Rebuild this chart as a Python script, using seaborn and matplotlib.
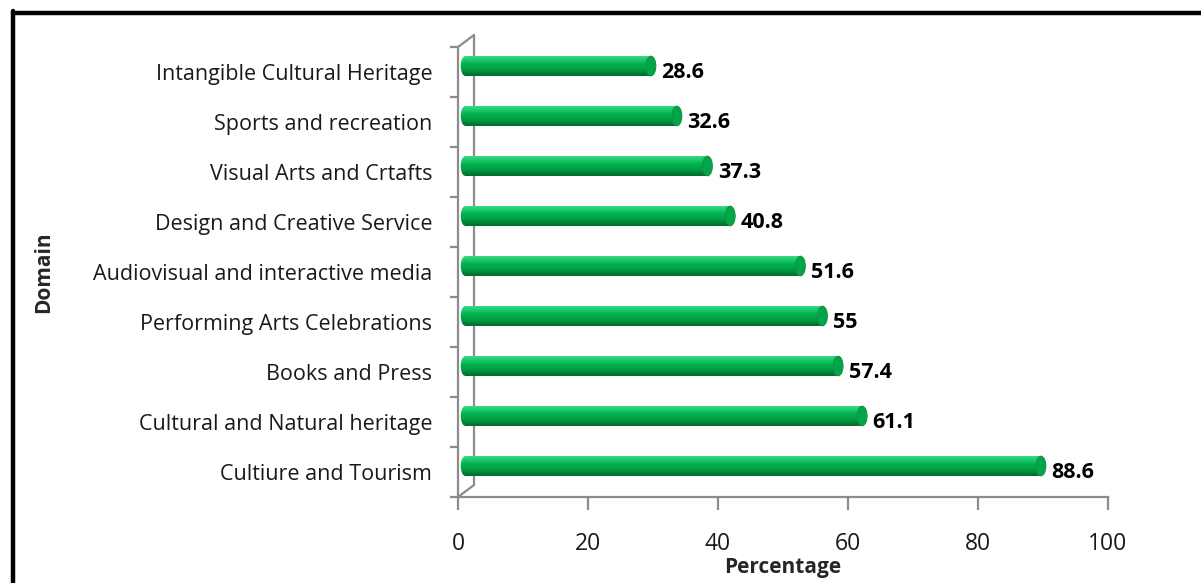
import numpy as np
import pandas as pd
import matplotlib
matplotlib.use("Agg")
import matplotlib.pyplot as plt
import matplotlib.transforms as mtransforms
from matplotlib.patches import Ellipse
from matplotlib.colors import LinearSegmentedColormap
from matplotlib.lines import Line2D
import seaborn as sns

# Share of respondents by cultural domain
domains = [
    "Intangible Cultural Heritage",
    "Sports and recreation",
    "Visual Arts and Crtafts",
    "Design and Creative Service",
    "Audiovisual and interactive media",
    "Performing Arts Celebrations",
    "Books and Press",
    "Cultural and Natural heritage",
    "Cultiure and Tourism",
]
percentages = [28.6, 32.6, 37.3, 40.8, 51.6, 55, 57.4, 61.1, 88.6]
value_labels = ["28.6", "32.6", "37.3", "40.8", "51.6", "55", "57.4", "61.1", "88.6"]
x_ticks = [0, 20, 40, 60, 80, 100]

df = pd.DataFrame({"Domain": domains, "Percentage": percentages})

sns.set_theme(style="white")
plt.rcParams["font.family"] = ["Open Sans", "DejaVu Sans"]

W, H = 1201, 583
fig = plt.figure(figsize=(W / 100, H / 100), dpi=100)
ax = fig.add_axes([458 / W, 1 - 497 / H, (1108 - 458) / W, (497 - 47) / H])

green = "#00B050"
sns.barplot(data=df, x="Percentage", y="Domain", orient="h", color=green,
            width=0.39, ax=ax, saturation=1)

ax.set_xlim(0, 100)
ax.set_ylim(len(domains) - 0.5, -0.5)

# depth offsets (pixels) for the pseudo-3D look
bar_tr = mtransforms.offset_copy(ax.transData, fig=fig, x=7, y=6, units="dots")
label_tr = mtransforms.offset_copy(ax.transData, fig=fig, x=7, y=-1, units="dots")
wall_tr = mtransforms.offset_copy(ax.transData, fig=fig, x=16, y=12, units="dots")

# light on top, dark underneath (y axis runs downward)
cyl = LinearSegmentedColormap.from_list(
    "cyl", ["#3ad884", "#1cc96a", "#00b050", "#00a548", "#008a3c", "#006b2d"])
grad = np.linspace(0, 1, 64).reshape(-1, 1)

gray = "#8c8c8c"
for p, v, lab in zip(ax.patches, percentages, value_labels):
    p.set_transform(bar_tr)
    p.set_edgecolor("none")
    y0, hgt = p.get_y(), p.get_height()
    # left rounded end
    le = Ellipse((0, y0 + hgt / 2), 1.3, hgt, transform=bar_tr, facecolor="none",
                 edgecolor="none")
    ax.add_patch(le)
    for clip in (p, le):
        im = ax.imshow(grad, cmap=cyl, aspect="auto", origin="upper",
                       extent=(-1, v, y0 + hgt, y0),
                       transform=bar_tr, zorder=3, interpolation="bilinear")
        im.set_clip_path(clip)
    # right end cap
    ax.add_patch(Ellipse((v, y0 + hgt / 2), 1.5, hgt, transform=bar_tr,
                         facecolor="#00a648", edgecolor="#1b8f47", lw=0.8, zorder=4))
    ax.text(v + 1.6, y0 + hgt / 2, lab, transform=label_tr, va="center", ha="left",
            fontsize=15.5, fontweight="bold", color="black", zorder=5)

# back wall and floor edges
n = len(domains)
ax.plot([0, 0], [-0.5, n - 0.5], color=gray, lw=1.6, transform=wall_tr, zorder=1,
        clip_on=False)
for yy in (-0.5, n - 0.5):
    x0, y0d = ax.transData.transform((0, yy))
    x1, y1d = wall_tr.transform((0, yy))
    fig.add_artist(Line2D([x0 / W, x1 / W], [y0d / H, y1d / H], color=gray, lw=1.6,
                          zorder=1))

for s in ("top", "right"):
    ax.spines[s].set_visible(False)
for s in ("left", "bottom"):
    ax.spines[s].set_color(gray)
    ax.spines[s].set_linewidth(1.6)
    ax.spines[s].set_zorder(1)

ax.set_xticks(x_ticks)
ax.set_xticklabels([str(t) for t in x_ticks])
ax.set_yticks(np.arange(-0.5, n, 1.0), minor=True)
ax.tick_params(axis="y", which="major", length=0, pad=18.5, labelsize=15.5,
               labelcolor="#1a1a1a")
ax.tick_params(axis="y", which="minor", length=6, width=1.6, color=gray, left=True)
ax.tick_params(axis="x", which="major", length=9, width=1.6, color=gray, bottom=True,
               direction="out", pad=16, labelsize=16.5, labelcolor="#1a1a1a")

ax.set_xlabel("Percentage", fontsize=15, fontweight="bold")
ax.set_ylabel("Domain", fontsize=15, fontweight="bold")
ax.xaxis.label.set_va("center")
ax.yaxis.label.set_va("center")
ax.xaxis.set_label_coords(0.5, -(568 - 497) / 450)
ax.yaxis.set_label_coords((44 - 458) / 650, 0.5)

# outer frame (top and left edges)
fig.add_artist(Line2D([13 / W, 1.0], [1 - 13 / H, 1 - 13 / H], color="black", lw=3.2))
fig.add_artist(Line2D([13 / W, 13 / W], [0.0, 1 - 11 / H], color="black", lw=3.2))

fig.savefig("out.png", dpi=100)
